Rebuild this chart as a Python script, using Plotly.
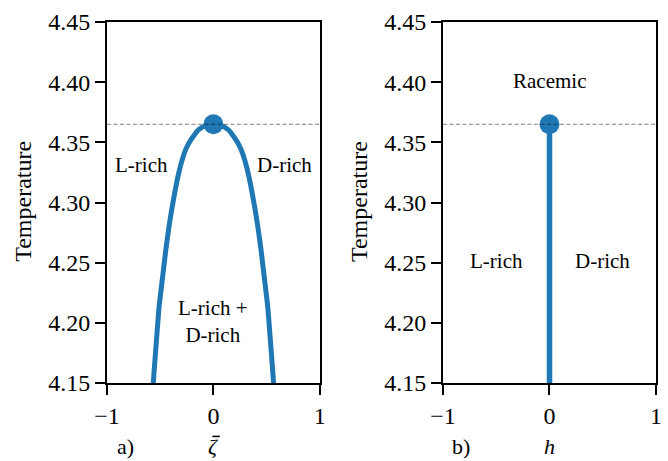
import plotly.graph_objects as go
from plotly.subplots import make_subplots

# ---- data ----
zeta_half = [-0.58, -0.563, -0.535, -0.510, -0.473, -0.447, -0.417, -0.392, -0.364,
             -0.333, -0.293, -0.261, -0.230, -0.190, -0.138, -0.075, 0.0]
T_half = [4.13, 4.1529, 4.1858, 4.2137, 4.2414, 4.2608, 4.2801, 4.294, 4.3079,
          4.3217, 4.3356, 4.3439, 4.3495, 4.3549, 4.3605, 4.3638, 4.365]
zeta = zeta_half + [-z for z in zeta_half[-2::-1]]
T_coex = T_half + T_half[-2::-1]
h_line = [0.0, 0.0]
T_line = [4.13, 4.365]
T_crit = 4.365
crit_x = [0.0]
y_ticks = [4.15, 4.20, 4.25, 4.30, 4.35, 4.40, 4.45]
x_ticks = [-1, 0, 1]

BLUE = "#1f77b4"
FONT = "Liberation Serif"
FS = 21
TFS = 24
BFS = 22

fig = make_subplots(rows=1, cols=2)

# left panel
fig.add_trace(go.Scatter(x=zeta, y=T_coex, mode="lines",
                         line=dict(color=BLUE, width=5, shape="spline", smoothing=0.5),
                         hoverinfo="skip"), row=1, col=1)
fig.add_trace(go.Scatter(x=crit_x, y=[T_crit], mode="markers", marker=dict(color=BLUE, size=20)), row=1, col=1)
fig.add_trace(go.Scatter(x=[-1, 1], y=[T_crit, T_crit], mode="lines",
                         line=dict(color="rgba(0,0,0,0.5)", width=1, dash="4px,2.5px")), row=1, col=1)

# right panel
fig.add_trace(go.Scatter(x=h_line, y=T_line, mode="lines", line=dict(color=BLUE, width=5.5)), row=1, col=2)
fig.add_trace(go.Scatter(x=crit_x, y=[T_crit], mode="markers", marker=dict(color=BLUE, size=20)), row=1, col=2)
fig.add_trace(go.Scatter(x=[-1, 1], y=[T_crit, T_crit], mode="lines",
                         line=dict(color="rgba(0,0,0,0.5)", width=1, dash="4px,2.5px")), row=1, col=2)

axis_common = dict(showline=True, linecolor="black", linewidth=2, mirror=True, showgrid=False,
                   zeroline=False, ticks="outside", ticklen=10, tickwidth=2, tickcolor="black",
                   tickfont=dict(family=FONT, size=TFS, color="black"))
for c in (1, 2):
    fig.update_xaxes(range=[-1, 1], tickvals=x_ticks, **axis_common, row=1, col=c)
    fig.update_yaxes(range=[4.15, 4.45], tickvals=y_ticks, tickformat=".2f", **axis_common, row=1, col=c)

fig.update_layout(
    width=668, height=461, showlegend=False,
    margin=dict(l=107, r=6, t=22, b=78),
    plot_bgcolor="white", paper_bgcolor="white",
    font=dict(family=FONT, size=FS, color="black"),
)
fig.update_xaxes(domain=[0, 0.3877], row=1, col=1)
fig.update_xaxes(domain=[0.612, 1], row=1, col=2)

ann = []
def A(text, x, y, xref, yref, size=FS, **kw):
    d = dict(text=text, x=x, y=y, xref=xref, yref=yref, showarrow=False,
             xanchor="center", yanchor="middle",
             font=dict(family=FONT, size=size, color="black"))
    d.update(kw)
    ann.append(d)

# region labels
A("L-rich", -0.673, 4.331, "x", "y")
A("D-rich", 0.67, 4.331, "x", "y")
A("L-rich +<br>D-rich", 0.0, 4.2013, "x", "y")
A("Racemic", 0.0, 4.401, "x2", "y2")
A("L-rich", -0.5, 4.251, "x2", "y2")
A("D-rich", 0.5, 4.251, "x2", "y2")
# axis titles
A("Temperature", -0.153, 0.502, "paper", "paper", size=TFS, textangle=-90)
A("Temperature", 0.4595, 0.502, "paper", "paper", size=TFS, textangle=-90)
YB = -0.177
A("<i>ζ</i>", 0.0, YB, "x", "paper", size=BFS)
A("<i>h</i>", 0.0, YB, "x2", "paper", size=BFS)
A("a)", -0.83, YB, "x", "paper", size=BFS)
A("b)", -0.83, YB, "x2", "paper", size=BFS)
fig.update_layout(annotations=ann)

# macron (bar) over zeta
fig.add_shape(type="line", xref="x", yref="paper", x0=-0.01, x1=0.06, y0=-0.148, y1=-0.148,
              line=dict(color="black", width=1.6))

fig.write_html("out.html", config={"displayModeBar": False},
               post_script="document.body.style.margin='0';")
